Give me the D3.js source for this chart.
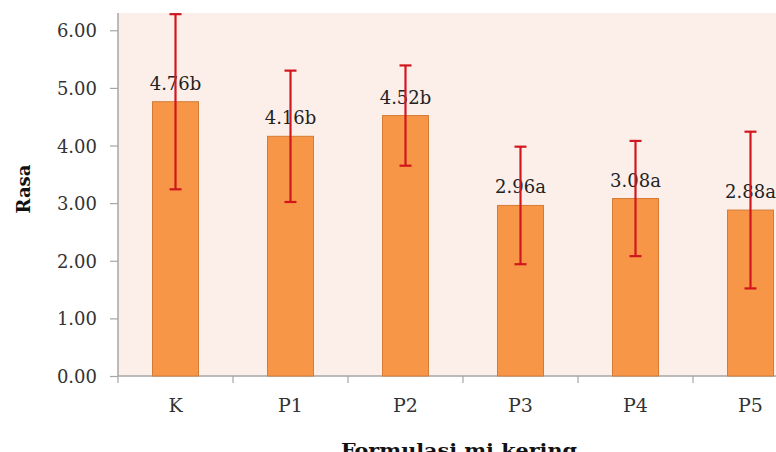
<!DOCTYPE html>
<html><head><meta charset="utf-8">
<script src="https://cdn.jsdelivr.net/npm/d3@7"></script>
<style>html,body{margin:0;padding:0;background:#fff;overflow:hidden}</style>
</head><body>
<svg id="chart" width="776" height="452"></svg>
<script>
const categories = ["K","P1","P2","P3","P4","P5"];
const values = [4.76, 4.16, 4.52, 2.96, 3.08, 2.88];
const errors = [1.52, 1.14, 0.87, 1.02, 1.00, 1.36];
const letters = ["b","b","b","a","a","a"];
const yTicks = [0,1,2,3,4,5,6];
const yLabel = "Rasa";
const xLabel = "Formulasi mi kering";

(function(){
const svg = d3.select("#chart");
const pL = 118, pT = 13, pB = 376, pR = 808;
const x = d3.scaleBand().domain(categories).range([pL, pR]).paddingInner(0.6).paddingOuter(0.3);
const xb = d3.scaleBand().domain(categories).range([pL, pR]);
const y = d3.scaleLinear().domain([0, 6.3]).range([pB, pT]);

svg.append("rect").attr("x", pL).attr("y", pT).attr("width", pR-pL).attr("height", pB-pT).attr("fill", "#fcefea");

// y axis
const yAxis = svg.append("g").attr("transform", `translate(${pL},0)`)
  .call(d3.axisLeft(y).tickValues(yTicks).tickFormat(d3.format(".2f")).tickSize(8).tickPadding(13));
yAxis.select(".domain").attr("stroke", "#a6a6a6").attr("stroke-width", 1.5).attr("d", `M0,${pT}V${pB}`);
yAxis.selectAll(".tick line").attr("stroke", "#a6a6a6").attr("stroke-width", 1.2);
yAxis.selectAll(".tick text").attr("font-family", "DejaVu Serif").attr("font-size", 18).attr("fill", "#333").attr("dy", "0.36em");

// x axis
const xAxis = svg.append("g").attr("transform", `translate(0,${pB})`);
xAxis.append("line").attr("x1", pL).attr("x2", pR).attr("y1", 0).attr("y2", 0).attr("stroke", "#a6a6a6").attr("stroke-width", 1.5);
const bounds = categories.map(c => xb(c)).concat([pR]);
xAxis.selectAll("line.tk").data(bounds).join("line").attr("class","tk")
  .attr("x1", d => d).attr("x2", d => d).attr("y1", 0).attr("y2", 7).attr("stroke", "#a6a6a6").attr("stroke-width", 1.2);
xAxis.selectAll("text.cat").data(categories).join("text").attr("class","cat")
  .attr("x", d => xb(d) + xb.bandwidth()/2).attr("y", 36)
  .attr("text-anchor", "middle").attr("font-family", "DejaVu Serif").attr("font-size", 19).attr("fill", "#333").text(d => d);

// bars
svg.selectAll("rect.bar").data(values).join("rect").attr("class","bar")
  .attr("x", (d,i) => x(categories[i])).attr("width", x.bandwidth())
  .attr("y", d => y(d)).attr("height", d => pB - y(d))
  .attr("fill", "#f79646").attr("stroke", "#d47b36").attr("stroke-width", 1);

// labels
svg.selectAll("text.val").data(values).join("text").attr("class","val")
  .attr("x", (d,i) => xb(categories[i]) + xb.bandwidth()/2).attr("y", d => y(d) - 12)
  .attr("text-anchor", "middle").attr("font-family", "DejaVu Serif").attr("font-size", 18).attr("fill", "#222")
  .text((d,i) => d3.format(".2f")(d) + letters[i]);

// error bars
const eg = svg.selectAll("g.err").data(values).join("g").attr("class","err")
  .attr("transform", (d,i) => `translate(${xb(categories[i]) + xb.bandwidth()/2},0)`)
  .attr("stroke", "#d2161e").attr("stroke-width", 2.2);
eg.append("line").attr("y1", (d,i) => y(d + errors[i])).attr("y2", (d,i) => y(d - errors[i]));
eg.append("line").attr("x1", -6).attr("x2", 6).attr("y1", (d,i) => y(d + errors[i])).attr("y2", (d,i) => y(d + errors[i]));
eg.append("line").attr("x1", -6).attr("x2", 6).attr("y1", (d,i) => y(d - errors[i])).attr("y2", (d,i) => y(d - errors[i]));

// axis titles
svg.append("text").attr("transform", "translate(30,189) rotate(-90)").attr("text-anchor", "middle")
  .attr("font-family", "DejaVu Serif").attr("font-weight", "bold").attr("font-size", 18).attr("fill", "#111").text(yLabel);
svg.append("text").attr("x", 459).attr("y", 457).attr("text-anchor", "middle")
  .attr("font-family", "DejaVu Serif").attr("font-weight", "bold").attr("font-size", 19).attr("fill", "#111")
  .attr("textLength", 236).attr("lengthAdjust", "spacingAndGlyphs").text(xLabel);
})();
</script>
</body></html>
